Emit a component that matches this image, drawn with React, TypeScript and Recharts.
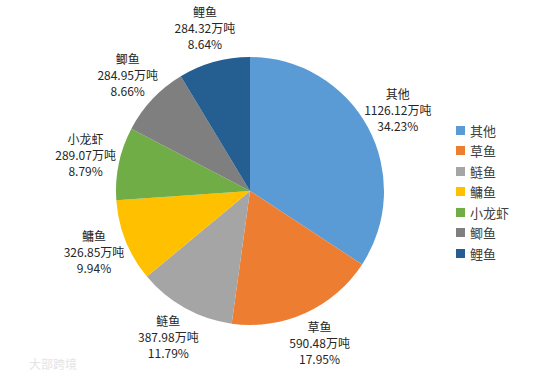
import { PieChart, Pie, Cell, Legend } from "recharts";

const species = ["其他", "草鱼", "鲢鱼", "鳙鱼", "小龙虾", "鲫鱼", "鲤鱼"];
const output = [1126.12, 590.48, 387.98, 326.85, 289.07, 284.95, 284.32];
const colors = ["#5B9BD5", "#ED7D31", "#A5A5A5", "#FFC000", "#70AD47", "#7F7F7F", "#255E91"];

const data = species.map((name, i) => ({ name, value: output[i] }));

const FONT = '"Noto Sans CJK SC", "Microsoft YaHei", sans-serif';
const RAD = Math.PI / 180;

const renderLabel = (props: any) => {
  const { cx, cy, midAngle, outerRadius, name, value, percent } = props;
  const r = outerRadius + 34;
  const x = cx + r * Math.cos(-midAngle * RAD);
  const y = cy + r * Math.sin(-midAngle * RAD);
  return (
    <text
      x={x}
      y={y}
      textAnchor="middle"
      fill="#262626"
      fontSize={12}
      fontFamily={FONT}
    >
      <tspan x={x} dy={-12}>{name}</tspan>
      <tspan x={x} dy={16}>{value.toFixed(2)}万吨</tspan>
      <tspan x={x} dy={16}>{(percent * 100).toFixed(2)}%</tspan>
    </text>
  );
};

// keep legend in the data order, not alphabetical
const renderLegend = (props: any) => {
  const items = [...(props.payload || [])].sort(
    (a: any, b: any) => species.indexOf(a.value) - species.indexOf(b.value)
  );
  return (
    <div style={{ fontFamily: FONT, fontSize: 13, color: "#404040" }}>
      {items.map((entry: any) => (
        <div
          key={entry.value}
          style={{ display: "flex", alignItems: "center", height: 20.5 }}
        >
          <span
            style={{
              display: "inline-block",
              width: 9,
              height: 9,
              background: entry.color,
              marginRight: 5,
            }}
          />
          <span>{entry.value}</span>
        </div>
      ))}
    </div>
  );
};

export default function App() {
  return (
    <div style={{ position: "absolute", left: 0, top: 0, background: "#fff" }}>
      <PieChart width={554} height={377} margin={{ top: 0, right: 0, bottom: 0, left: 0 }}>
        <Pie
          data={data}
          dataKey="value"
          nameKey="name"
          cx={250}
          cy={191}
          outerRadius={134}
          startAngle={90}
          endAngle={-270}
          stroke="none"
          label={renderLabel}
          labelLine={false}
          isAnimationActive={false}
        >
          {data.map((d, i) => (
            <Cell key={d.name} fill={colors[i]} />
          ))}
        </Pie>
        <Legend
          layout="vertical"
          align="right"
          verticalAlign="top"
          content={renderLegend}
          wrapperStyle={{ left: 456, top: 120, width: 90 }}
        />
        <text x={29} y={369} fontSize={12} fill="#e4e4e4" fontFamily={FONT}>
          大部跨境
        </text>
      </PieChart>
    </div>
  );
}
